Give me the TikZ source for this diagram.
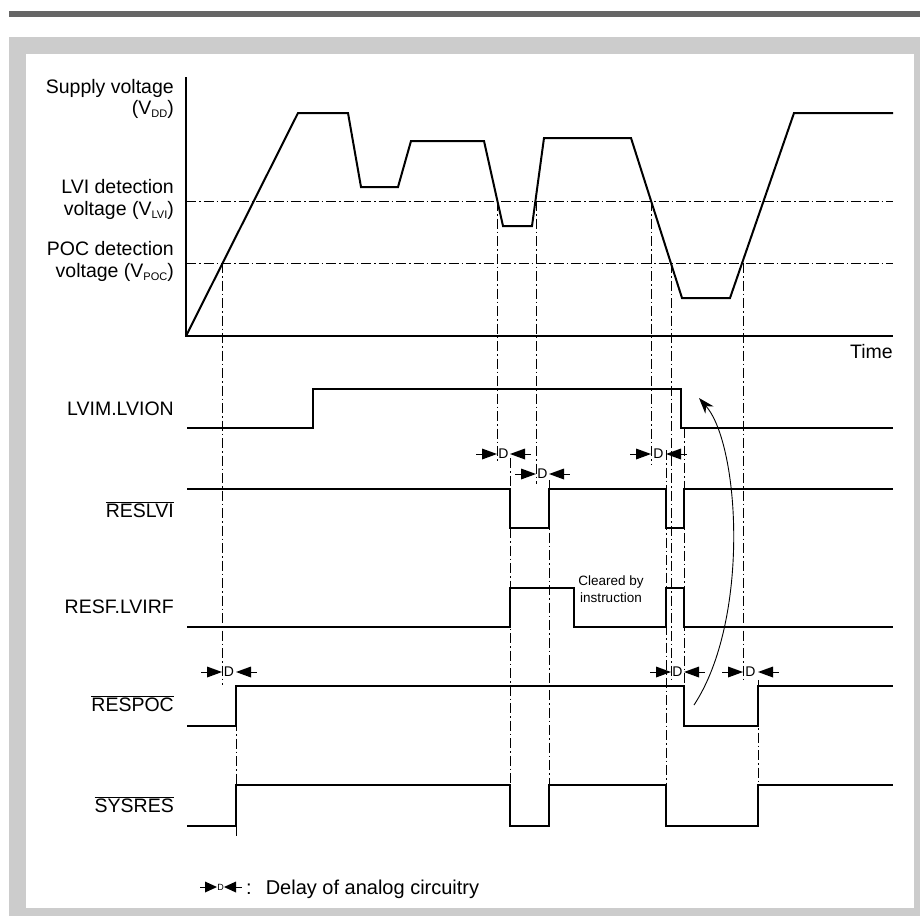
\documentclass[tikz,border=0pt]{standalone}
\usepackage{fontspec}
\setmainfont{Liberation Sans}
\usetikzlibrary{arrows.meta}

\tikzset{
  lbl/.style={anchor=base east, inner sep=0pt, font=\fontsize{19.5}{23}\selectfont},
  sig/.style={line width=2pt},
  guide/.style={line width=1pt, dash pattern=on 10pt off 3pt on 1.5pt off 3pt},
}

% subscript of the voltage labels
\newcommand{\vsub}[1]{\raisebox{-3.5pt}{\fontsize{11}{11}\selectfont #1}}

% delay marker: name, y, left x, right x
\newcommand{\dmark}[5][14]{%
  \fill (#4-15,#3-5.5) -- (#4,#3) -- (#4-15,#3+5.5) -- cycle;
  \fill (#5+15,#3-5.5) -- (#5,#3) -- (#5+15,#3+5.5) -- cycle;
  \draw[line width=1pt] (#4-21,#3) -- (#4-15,#3) (#5+15,#3) -- (#5+21,#3);
  \node[inner sep=0pt, font=\fontsize{#1}{#1}\selectfont] (#2) at ({(#4+#5)/2},#3) {D};
}

\begin{document}
\begin{tikzpicture}[x=1pt, y=-1pt, >=Stealth]
        % Khung nen
        \useasboundingbox (0,0) rectangle (920,916);
        \fill[black!60] (9,11) rectangle (920,17);
        \fill[black!20] (9,37) rectangle (920,916);
        \fill[white] (26,54) rectangle (914,908);

        % Truc toa do
        \draw[sig] (186,77) -- (186,336) -- (893,336);
        \node[lbl] (time) at (893,358) {Time};

        % Nguong LVI va POC
        \draw[guide] (186,201) -- (893,201);
        \draw[guide] (186,263) -- (893,263);
        \node[lbl] (vdd1) at (174,93) {Supply voltage};
        \node[lbl] (vdd2) at (174,114) {(V\vsub{DD})};
        \node[lbl] (lvi1) at (174,193) {LVI detection};
        \node[lbl] (lvi2) at (174,215) {voltage (V\vsub{LVI})};
        \node[lbl] (poc1) at (174,255) {POC detection};
        \node[lbl] (poc2) at (174,277) {voltage (V\vsub{POC})};

        % Dien ap VDD
        \draw[sig] (186,336) -- (298,113) -- (348,113) -- (361,187) -- (398,187) -- (411,141)
          -- (484,141) -- (503,226) -- (532,226) -- (544,138) -- (631,138) -- (682,298)
          -- (730,298) -- (794,113) -- (893,113);

        % Duong giong
        \draw[guide] (222,263) -- (222,685);
        \draw[guide] (497,201) -- (497,462);
        \draw[guide] (536,201) -- (536,484);
        \draw[guide] (651,201) -- (651,464);
        \draw[guide] (671,263) -- (671,682);
        \draw[guide] (743,263) -- (743,682);
        \draw[guide] (510,458) -- (510,785);
        \draw[guide] (549,480) -- (549,785);
        \draw[guide] (666,450) -- (666,785);
        \draw[guide] (684,428) -- (684,686);
        \draw[guide] (758,680) -- (758,785);
        \draw[guide] (236,686) -- (236,838);

        % Tin hieu
        \node[lbl] (lvion) at (174,415) {LVIM.LVION};
        \draw[sig] (187,428) -- (313,428) -- (313,389) -- (681,389) -- (681,428) -- (893,428);

        \node[lbl] (reslvi) at (174,517) {$\overline{\hbox{RESLVI}}$};
        \draw[sig] (187,489) -- (510,489) -- (510,528) -- (549,528) -- (549,489) -- (666,489)
          -- (666,528) -- (684,528) -- (684,489) -- (893,489);

        \node[lbl] (lvirf) at (174,613) {RESF.LVIRF};
        \draw[sig] (187,627) -- (510,627) -- (510,588) -- (574,588) -- (574,627) -- (666,627)
          -- (666,588) -- (684,588) -- (684,627) -- (893,627);
        \node[inner sep=0pt, font=\fontsize{13.5}{17}\selectfont, align=center] (clr) at (611,589)
          {Cleared by\\ instruction};

        \node[lbl] (respoc) at (174,711) {$\overline{\hbox{RESPOC}}$};
        \draw[sig] (187,726) -- (236,726) -- (236,686) -- (684,686) -- (684,726) -- (758,726)
          -- (758,686) -- (893,686);

        \node[lbl] (sysres) at (174,812) {$\overline{\hbox{SYSRES}}$};
        \draw[sig] (187,826) -- (236,826) -- (236,785) -- (510,785) -- (510,826) -- (549,826)
          -- (549,785) -- (666,785) -- (666,826) -- (758,826) -- (758,785) -- (893,785);

        % Tre D
        \dmark{dA}{454}{497}{510}
        \dmark{dB}{474}{536}{549}
        \dmark{dC}{454}{651}{666}
        \dmark{dD}{672}{671}{684}
        \dmark{dE}{672}{743}{758}
        \dmark{dF}{672}{222}{236}

        % Mui ten cong
        \coordinate (arrS) at (694,705);
        \coordinate (arrE) at (699,398);
        \draw[line width=0.9pt, -{Stealth[length=16pt, width=11pt]}] (arrS) .. controls (750,620) and (740,445) .. (arrE);

        % Chu thich
        \fill (205,881.5) -- (217,887) -- (205,892.5) -- cycle;
        \fill (236,881.5) -- (224,887) -- (236,892.5) -- cycle;
        \draw[line width=1pt] (200,887) -- (205,887) (236,887) -- (242,887);
        \node[inner sep=0pt, font=\fontsize{9}{9}\selectfont] (dL) at (220.5,887) {D};
        \node[anchor=base west, inner sep=0pt, font=\fontsize{20}{23}\selectfont] (legend) at (246,894)
          {:\hspace{14pt}Delay of analog circuitry};
\end{tikzpicture}
\end{document}
